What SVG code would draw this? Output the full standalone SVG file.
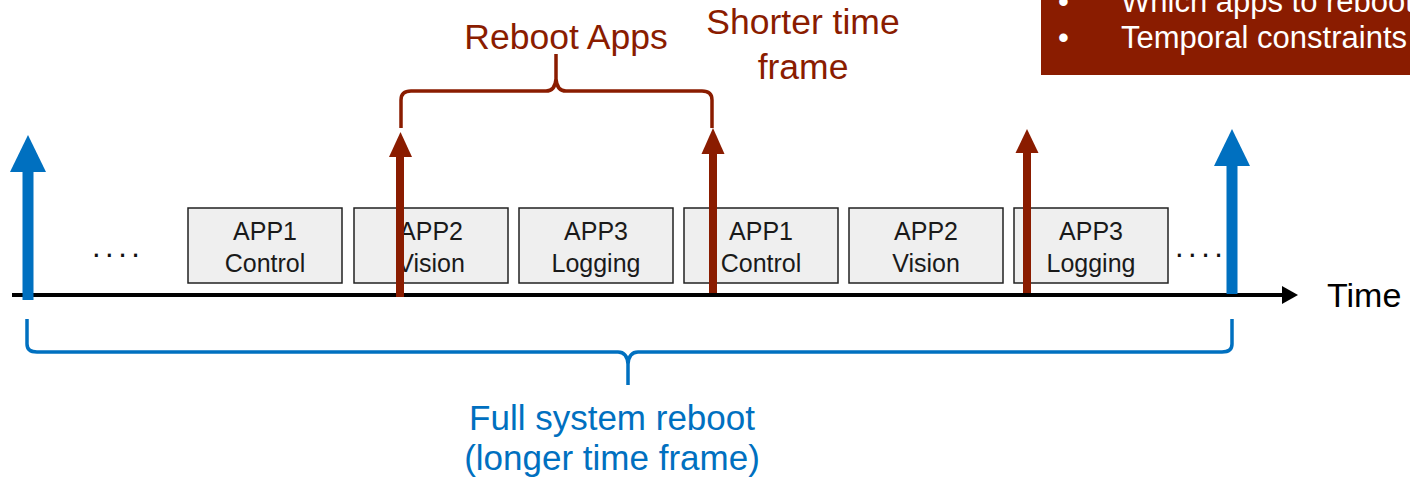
<svg xmlns="http://www.w3.org/2000/svg" width="1410" height="479" viewBox="0 0 1410 479">
  <style>
    .box { fill: #efefef; stroke: #222; stroke-width: 1.5; }
    .lbl { font-family: "Liberation Sans", Arial, sans-serif; font-size: 25px; fill: #1a1a1a; text-anchor: middle; }
    .red { fill: #8a1c00; }
    .blue { fill: #0070c0; }
    .redtxt { font-family: "Liberation Sans", Arial, sans-serif; font-size: 35.5px; fill: #8a1c00; text-anchor: middle; }
    .bluetxt { font-family: "Liberation Sans", Arial, sans-serif; font-size: 35px; fill: #0070c0; text-anchor: middle; }
    .note { font-family: "Liberation Sans", Arial, sans-serif; font-size: 31px; fill: #ffffff; }
    .dots { font-family: "Liberation Sans", Arial, sans-serif; font-size: 31px; fill: #111; letter-spacing: 4.5px; }
    .brace { fill: none; stroke-width: 3.5; stroke-linejoin: round; stroke-linecap: butt; }
  </style>

  <!-- note box, top right -->
  <g id="note">
    <rect x="1041" y="-2" width="372" height="77" class="red"/>
    <text class="note" x="1058" y="12">•</text>
    <text class="note" x="1121" y="12">Which apps to reboot</text>
    <text class="note" x="1058" y="48">•</text>
    <text class="note" x="1121" y="48">Temporal constraints</text>
  </g>

  <!-- app slots -->
  <g id="app1-control-a">
    <rect class="box" x="188" y="208" width="154" height="75"/>
    <text class="lbl" x="265" y="240">APP1</text>
    <text class="lbl" x="265" y="272">Control</text>
  </g>
  <g id="app2-vision-a">
    <rect class="box" x="354" y="208" width="154" height="75"/>
    <text class="lbl" x="431" y="240">APP2</text>
    <text class="lbl" x="431" y="272">Vision</text>
  </g>
  <g id="app3-logging-a">
    <rect class="box" x="519" y="208" width="154" height="75"/>
    <text class="lbl" x="596" y="240">APP3</text>
    <text class="lbl" x="596" y="272">Logging</text>
  </g>
  <g id="app1-control-b">
    <rect class="box" x="684" y="208" width="154" height="75"/>
    <text class="lbl" x="761" y="240">APP1</text>
    <text class="lbl" x="761" y="272">Control</text>
  </g>
  <g id="app2-vision-b">
    <rect class="box" x="849" y="208" width="154" height="75"/>
    <text class="lbl" x="926" y="240">APP2</text>
    <text class="lbl" x="926" y="272">Vision</text>
  </g>
  <g id="app3-logging-b">
    <rect class="box" x="1014" y="208" width="154" height="75"/>
    <text class="lbl" x="1091" y="240">APP3</text>
    <text class="lbl" x="1091" y="272">Logging</text>
  </g>

  <g id="ellipses">
    <text class="dots" x="92" y="257">....</text>
    <text class="dots" x="1175" y="257">....</text>
  </g>

  <g id="connectors">
    <!-- time axis -->
    <line x1="12" y1="295" x2="1284" y2="295" stroke="#000" stroke-width="4"/>
    <polygon points="1282,286 1298,295 1282,304" fill="#000"/>

    <!-- full reboots -->
    <rect class="blue" x="22.5" y="170" width="11" height="130"/>
    <polygon class="blue" points="10,172 28,135 46,172"/>
    <rect class="blue" x="1226.5" y="164" width="11" height="130"/>
    <polygon class="blue" points="1214,166 1232,129 1250,166"/>

    <!-- app reboots -->
    <rect class="red" x="396" y="155" width="8" height="142"/>
    <polygon class="red" points="389,157 400.5,132 412,157"/>
    <rect class="red" x="709" y="152" width="8" height="141"/>
    <polygon class="red" points="701.5,154 713,128 724.5,154"/>
    <rect class="red" x="1023" y="151" width="8" height="142"/>
    <polygon class="red" points="1015.5,153 1027,129 1038.5,153"/>

    <!-- brace over the app reboots -->
    <path class="brace" stroke="#8a1c00" d="M401,128 L401,100 Q401,91 411,91 L546,91 Q555,91 556,79 L556,54 M556,79 Q557,91 566,91 L702,91 Q712,91 712,100 L712,128"/>

    <!-- brace under the full reboot span -->
    <path class="brace" stroke="#0070c0" d="M27,319 L27,344 Q27,352 37,352 L618,352 Q627,352 628,364 L628,385 M628,364 Q629,352 638,352 L1222,352 Q1232,352 1232,344 L1232,319"/>
  </g>

  <g id="labels">
    <text class="redtxt" x="566" y="49">Reboot Apps</text>
    <text class="redtxt" x="803" y="34">Shorter time</text>
    <text class="redtxt" x="803" y="79">frame</text>
    <text class="bluetxt" x="612" y="430">Full system reboot</text>
    <text class="bluetxt" x="612" y="470">(longer time frame)</text>
    <text x="1327" y="307" font-family="Liberation Sans, Arial, sans-serif" font-size="34" fill="#000">Time</text>
  </g>
</svg>
